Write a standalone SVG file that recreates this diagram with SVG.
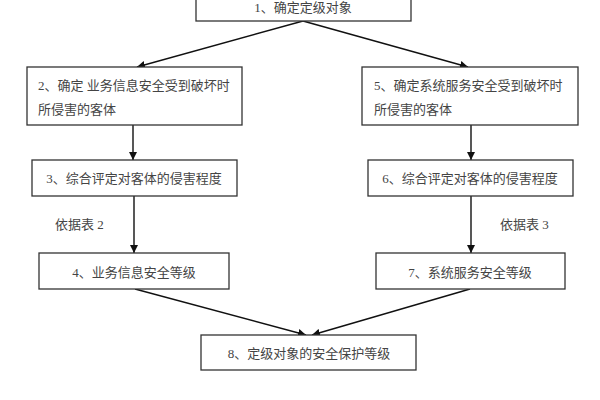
<svg xmlns="http://www.w3.org/2000/svg" width="600" height="400" viewBox="0 0 600 400">
<style>
.box{fill:#fff;stroke:#333;stroke-width:1.3}
.t{font-family:"Liberation Serif","Noto Sans CJK SC",serif;font-size:13px;fill:#444}
.c{text-anchor:middle}
.ln{stroke:#111;stroke-width:1.4;fill:none}
</style>
<defs>
<marker id="ah" viewBox="0 0 10 10" refX="10" refY="5" markerWidth="8" markerHeight="8" orient="auto" markerUnits="userSpaceOnUse">
<path d="M0,0 L10,5 L0,10 z" fill="#111"/>
</marker>
</defs>
<rect width="600" height="400" fill="#fff"/>
<g id="connectors">
<line class="ln" x1="303" y1="21" x2="137" y2="67" marker-end="url(#ah)"/>
<line class="ln" x1="303" y1="21" x2="468" y2="67" marker-end="url(#ah)"/>
<line class="ln" x1="133" y1="125" x2="133" y2="160" marker-end="url(#ah)"/>
<line class="ln" x1="471" y1="125" x2="471" y2="160" marker-end="url(#ah)"/>
<line class="ln" x1="134" y1="196" x2="134" y2="253" marker-end="url(#ah)"/>
<line class="ln" x1="471" y1="196" x2="471" y2="253" marker-end="url(#ah)"/>
<line class="ln" x1="135" y1="289" x2="306" y2="335" marker-end="url(#ah)"/>
<line class="ln" x1="470" y1="289" x2="312" y2="335" marker-end="url(#ah)"/>
<text class="t" x="55" y="229">依据表 2</text>
<text class="t" x="500" y="229">依据表 3</text>
</g>
<g id="n1">
<rect class="box" x="196" y="-20" width="215" height="41"/>
<text class="t c" x="303" y="12">1、确定定级对象</text>
</g>
<g id="n2">
<rect class="box" x="27" y="67" width="215" height="58"/>
<text class="t" x="38" y="90">2、确定 业务信息安全受到破坏时</text>
<text class="t" x="38" y="114">所侵害的客体</text>
</g>
<g id="n3">
<rect class="box" x="32" y="160" width="205" height="36"/>
<text class="t c" x="134" y="183">3、综合评定对客体的侵害程度</text>
</g>
<g id="n4">
<rect class="box" x="39" y="253" width="190" height="36"/>
<text class="t c" x="134" y="277">4、业务信息安全等级</text>
</g>
<g id="n5">
<rect class="box" x="362" y="67" width="216" height="58"/>
<text class="t" x="374" y="90">5、确定系统服务安全受到破坏时</text>
<text class="t" x="374" y="114">所侵害的客体</text>
</g>
<g id="n6">
<rect class="box" x="368" y="160" width="205" height="36"/>
<text class="t c" x="470" y="183">6、综合评定对客体的侵害程度</text>
</g>
<g id="n7">
<rect class="box" x="376" y="253" width="189" height="36"/>
<text class="t c" x="470" y="277">7、系统服务安全等级</text>
</g>
<g id="n8">
<rect class="box" x="201" y="335" width="215" height="35"/>
<text class="t c" x="309" y="358">8、定级对象的安全保护等级</text>
</g>
</svg>
